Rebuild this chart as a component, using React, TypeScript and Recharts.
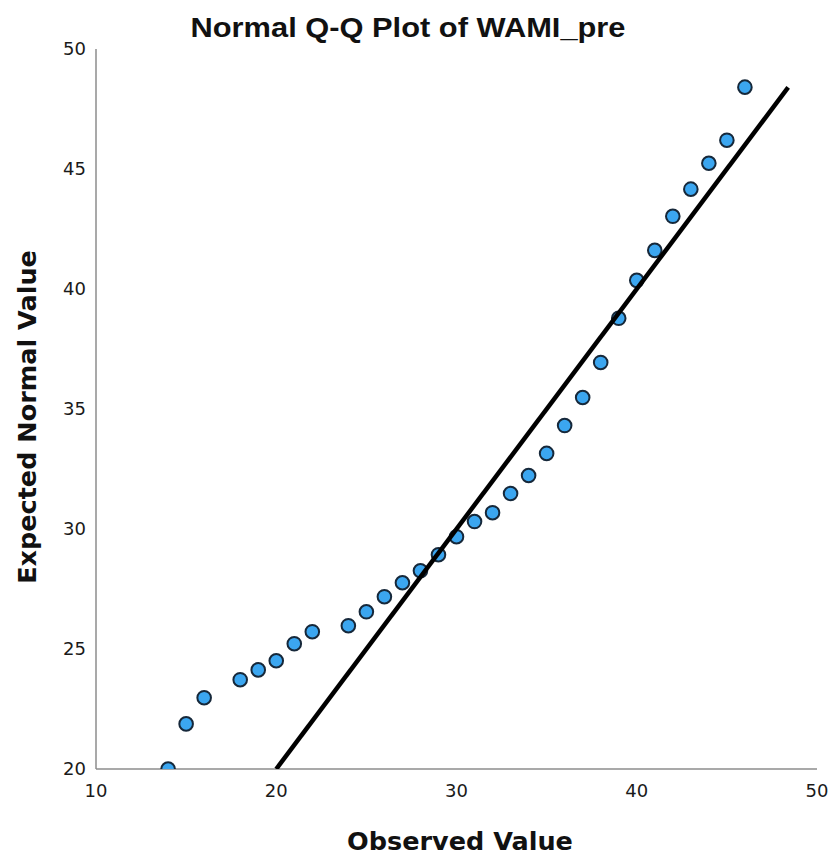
import { ScatterChart, Scatter, XAxis, YAxis } from "recharts";

// observed scores (x) and their expected normal values (y)
const observed = [14, 15, 16, 18, 19, 20, 21, 22, 24, 25, 26, 27, 28, 29, 30, 31, 32, 33, 34, 35, 36, 37, 38, 39, 40, 41, 42, 43, 44, 45, 46];
const expected = [20.0, 21.88, 22.97, 23.72, 24.13, 24.51, 25.22, 25.72, 25.97, 26.55, 27.18, 27.76, 28.26, 28.93, 29.68, 30.31, 30.68, 31.48, 32.23, 33.15, 34.31, 35.48, 36.94, 38.78, 40.36, 41.61, 43.03, 44.16, 45.24, 46.2, 48.41];

// reference line y = x
const lineX = [20, 48.4];
const lineY = [20, 48.4];

const xTicks = [10, 20, 30, 40, 50];
const yTicks = [20, 25, 30, 35, 40, 45, 50];

const points = observed.map((x, i) => ({ x, y: expected[i] }));
const fitLine = lineX.map((x, i) => ({ x, y: lineY[i] }));

const tickStyle = { fill: "#1a1a1a", fontSize: 18, fontFamily: "DejaVu Sans" };
const axisLine = { stroke: "#8c8c8c", strokeWidth: 1.5 };

const Dot = (props: any) => (
  <circle cx={props.cx} cy={props.cy} r={6.8} fill="#3ba6f0" stroke="#16283a" strokeWidth={2} />
);

export default function App() {
  return (
    <div style={{ position: "absolute", left: 0, top: 0, width: 832, height: 856, background: "#fff" }}>
      <ScatterChart width={832} height={856} margin={{ top: 49, right: 15, bottom: 0, left: 0 }}>
        <XAxis
          type="number"
          dataKey="x"
          domain={[10, 50]}
          ticks={xTicks}
          tickLine={false}
          axisLine={axisLine}
          tick={tickStyle}
          tickMargin={9}
          height={87}
          allowDataOverflow
        />
        <YAxis
          type="number"
          dataKey="y"
          domain={[20, 50]}
          ticks={yTicks}
          tickLine={false}
          axisLine={axisLine}
          tick={tickStyle}
          tickMargin={4}
          width={96}
          allowDataOverflow
        />
        <Scatter data={points} shape={Dot} isAnimationActive={false} />
        <Scatter
          data={fitLine}
          line={{ stroke: "#000", strokeWidth: 4.5 }}
          shape={() => <g />}
          isAnimationActive={false}
        />
      </ScatterChart>
      <svg width={832} height={856} style={{ position: "absolute", left: 0, top: 0, pointerEvents: "none" }}>
        <text
          x={408}
          y={37}
          textAnchor="middle"
          fontFamily="Liberation Sans"
          fontWeight="bold"
          fontSize={28}
          textLength={435}
          lengthAdjust="spacingAndGlyphs"
          fill="#111"
        >
          Normal Q-Q Plot of WAMI_pre
        </text>
        <text x={460} y={850} textAnchor="middle" fontFamily="DejaVu Sans" fontWeight="bold" fontSize={25.5} fill="#111">
          Observed Value
        </text>
        <text
          x={36}
          y={417}
          textAnchor="middle"
          fontFamily="DejaVu Sans"
          fontWeight="bold"
          fontSize={25.5}
          fill="#111"
          transform="rotate(-90 36 417)"
        >
          Expected Normal Value
        </text>
      </svg>
    </div>
  );
}
